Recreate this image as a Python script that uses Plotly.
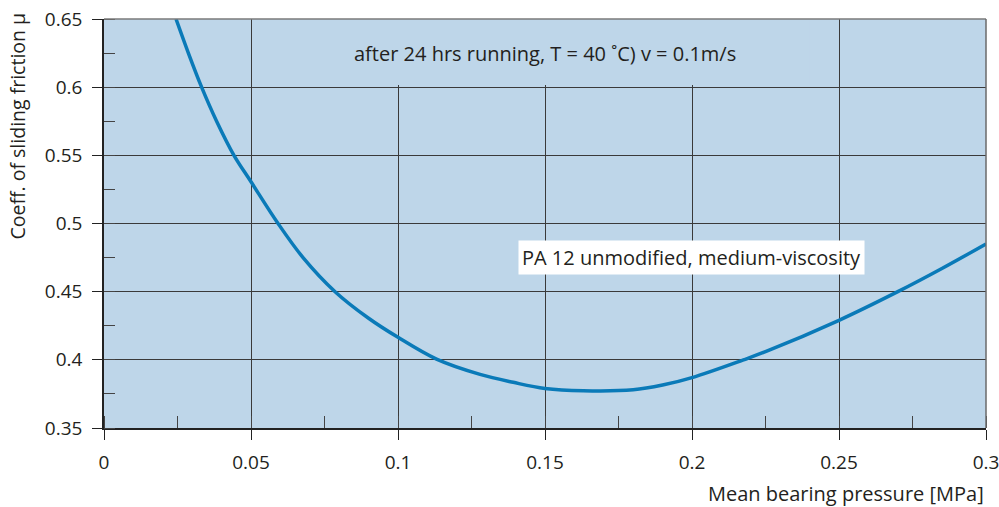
import plotly.graph_objects as go

# Mean bearing pressure [MPa] and coefficient of sliding friction
pressure = [0.0245, 0.0287, 0.0332, 0.0383, 0.0442, 0.050, 0.0592, 0.0677, 0.0786,
            0.090, 0.100, 0.1131, 0.1279, 0.1392, 0.150, 0.163, 0.180, 0.190,
            0.200, 0.2175, 0.225, 0.250, 0.270, 0.285, 0.300]
friction = [0.650, 0.625, 0.600, 0.575, 0.550, 0.5306, 0.500, 0.475, 0.450,
            0.4305, 0.4165, 0.4005, 0.3893, 0.3835, 0.379, 0.3773, 0.378, 0.3815,
            0.387, 0.400, 0.406, 0.429, 0.450, 0.467, 0.485]

x_ticks = [0, 0.05, 0.1, 0.15, 0.2, 0.25, 0.3]
x_tick_text = ["0", "0.05", "0.1", "0.15", "0.2", "0.25", "0.3"]
y_ticks = [0.35, 0.4, 0.45, 0.5, 0.55, 0.6, 0.65]
y_tick_text = ["0.35", "0.4", "0.45", "0.5", "0.55", "0.6", "0.65"]

series_label = "PA 12 unmodified, medium-viscosity"
condition_label = "after 24 hrs running, T = 40 \u02daC) v = 0.1m/s"
x_title = "Mean bearing pressure [MPa]"
y_title = "Coeff. of sliding friction \u03bc"

FONT = "Open Sans"
TEXT = "#231f20"
BG = "#bed6e9"
GRID = "#3a3a3a"

fig = go.Figure()
fig.add_trace(go.Scatter(
    x=pressure, y=friction, mode="lines",
    line=dict(color="#0a7ab8", width=3.5, shape="spline", smoothing=1.0),
    hoverinfo="skip", showlegend=False,
))

fig.update_layout(
    width=999, height=507,
    margin=dict(l=104, r=13, t=19, b=79, autoexpand=False),
    paper_bgcolor="white", plot_bgcolor=BG,
    font=dict(family=FONT, color=TEXT, size=19),
    showlegend=False,
)

fig.update_xaxes(
    range=[0, 0.3], tickvals=x_ticks, ticktext=x_tick_text, automargin=False,
    ticklabeloverflow="allow",
    showgrid=True, gridcolor=GRID, gridwidth=1, zeroline=False,
    showline=True, linecolor="#222", linewidth=1.5,
    ticks="outside", ticklen=10, tickcolor="#222", tickwidth=1,
    ticklabelstandoff=6,
    tickfont=dict(size=19, family=FONT, color=TEXT),
    minor=dict(dtick=0.025, tick0=0, ticks="inside", ticklen=12,
               tickcolor="#444", tickwidth=1, showgrid=False),
)
fig.update_yaxes(
    range=[0.35, 0.65], tickvals=y_ticks, ticktext=y_tick_text, automargin=False,
    ticklabeloverflow="allow",
    showgrid=True, gridcolor=GRID, gridwidth=1, zeroline=False,
    showline=True, linecolor="#222", linewidth=1.5,
    ticks="outside", ticklen=10, tickcolor="#222", tickwidth=1,
    ticklabelstandoff=6,
    tickfont=dict(size=19, family=FONT, color=TEXT),
    minor=dict(dtick=0.025, tick0=0.35, ticks="inside", ticklen=11,
               tickcolor="#444", tickwidth=1, showgrid=False),
)

# panel behind the test-condition note hides the gridlines there
fig.add_shape(type="rect", xref="x", yref="y", x0=0.06, x1=0.24, y0=0.6015, y1=0.65,
              fillcolor=BG, line=dict(width=0), layer="between")
# grey top and right frame
fig.add_shape(type="line", xref="paper", yref="paper", x0=0, x1=1, y0=1, y1=1,
              line=dict(color="#7a7a7a", width=1.5))
fig.add_shape(type="line", xref="paper", yref="paper", x0=1, x1=1, y0=0, y1=1,
              line=dict(color="#6a6a6a", width=1.5))

fig.add_annotation(x=0.15, y=0.625, xref="x", yref="y", text=condition_label,
                   showarrow=False, font=dict(size=20, family=FONT, color=TEXT))
fig.add_annotation(x=0.1997, y=0.4754, xref="x", yref="y", text=series_label,
                   showarrow=False, bgcolor="white", borderpad=3,
                   font=dict(size=20, family=FONT, color=TEXT))
fig.add_annotation(x=1, y=-0.159, xref="paper", yref="paper", text=x_title,
                   xanchor="right", yanchor="middle", showarrow=False,
                   font=dict(size=20, family=FONT, color=TEXT))
fig.add_annotation(x=-86 / 882, y=0.737, xref="paper", yref="paper", text=y_title,
                   textangle=-90, xanchor="center", yanchor="middle", showarrow=False,
                   font=dict(size=19.5, family=FONT, color=TEXT))

fig.write_html("out.html")
